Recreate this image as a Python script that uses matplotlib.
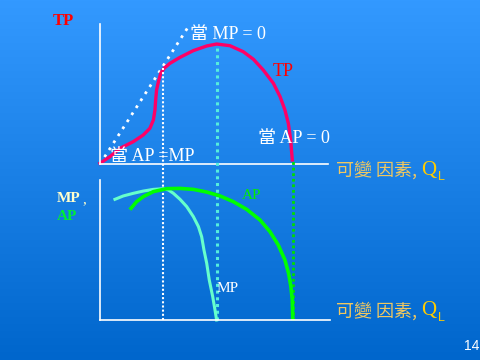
import numpy as np
import matplotlib
matplotlib.use("Agg")
from matplotlib import pyplot as plt

# labour input Q (0..10 along the axis) and total product TP (0..10 up the axis)
q_tp = [0, 0.43, 0.87, 1.45, 1.88, 2.17, 2.32, 2.39, 2.42, 2.46, 2.54, 2.64, 2.78, 3.04, 3.48,
        4.06, 4.64, 5.07, 5.65, 6.23, 6.67, 7.10, 7.54, 7.83, 8.04, 8.19, 8.29, 8.36]
tp = [0.05, 0.52, 1.12, 1.60, 2.07, 2.55, 3.14, 3.86, 4.57, 5.29, 5.88, 6.48, 6.83, 7.19, 7.62,
      8.10, 8.43, 8.57, 8.45, 8.02, 7.48, 6.71, 5.76, 4.81, 3.86, 2.90, 1.71, 0.29]

# ray from origin tangent to TP
ray_q = [0, 3.8]
ray_tp = [0, 9.7]

# marginal and average product
q_mp = [0.65, 1.01, 1.45, 1.88, 2.32, 2.75, 2.97, 3.19, 3.48, 3.77, 4.06, 4.28, 4.42, 4.52,
        4.64, 4.75, 4.90, 5.00, 5.07]
mp = [8.62, 8.86, 9.05, 9.21, 9.33, 9.38, 9.29, 9.05, 8.62, 8.10, 7.38, 6.67, 5.95, 5.0,
      4.05, 2.86, 1.67, 0.71, 0]
q_ap = [1.35, 1.59, 1.88, 2.32, 2.90, 3.48, 4.06, 4.64, 5.22, 5.80, 6.38, 6.96, 7.39, 7.75,
        8.04, 8.20, 8.30, 8.36, 8.38]
ap = [7.98, 8.45, 8.81, 9.17, 9.38, 9.40, 9.33, 9.14, 8.86, 8.45, 7.90, 7.14, 6.31, 5.36,
      4.29, 3.33, 2.38, 1.43, 0.12]

# key points: AP = MP, MP = 0, AP = 0 (q, top of the guide line in lower-panel units)
q_apmp, top_apmp = 2.74, 18.0
q_mp0, top_mp0 = 5.07, 19.6
q_ap0, top_ap0 = 8.37, 11.4

W, H = 480, 360
fig = plt.figure(figsize=(4.8, 3.6), dpi=100)

# background gradient
bg = fig.add_axes([0, 0, 1, 1])
grad = np.linspace(0, 1, 256)[:, None]
top_c = np.array([51, 153, 255]) / 255
bot_c = np.array([0, 102, 204]) / 255
img = top_c * (1 - grad[..., None]) + bot_c * grad[..., None]
img = np.repeat(img, 2, axis=1)
bg.imshow(img, aspect="auto", extent=[0, 1, 0, 1])
bg.axis("off")

def fx(x):
    return x / W

def fy(y):
    return 1 - y / H

ax1 = fig.add_axes([fx(100), fy(164), 230 / W, 140 / H])
ax2 = fig.add_axes([fx(100), fy(320), 230 / W, 140 / H])
for ax in (ax1, ax2):
    ax.set_xlim(0, 10)
    ax.set_ylim(0, 10)
    ax.patch.set_alpha(0)
    ax.set_xticks([])
    ax.set_yticks([])
    for s in ("top", "right"):
        ax.spines[s].set_visible(False)
    for s in ("left", "bottom"):
        ax.spines[s].set_color("white")
        ax.spines[s].set_linewidth(1.2)
ax1.spines["bottom"].set_bounds(0, 9.9)

# upper panel
ax1.plot(ray_q, ray_tp, color="white", lw=2, ls=(0, (1, 2)), clip_on=False)
ax1.plot(q_tp, tp, color="#FF0066", lw=2.4, solid_joinstyle="round", clip_on=False)

# guide lines through both panels
ax2.plot([q_apmp, q_apmp], [0, top_apmp], color="white", lw=1.5, ls=(0, (1, 1)), clip_on=False, zorder=1)
ax2.plot([q_mp0, q_mp0], [0, top_mp0], color="#55EEDD", lw=2.2, ls=(0, (1, 1.2)), clip_on=False, zorder=1)
ax2.plot([q_ap0, q_ap0], [0, top_ap0], color="#00DD00", lw=2.0, ls=(0, (1, 1)), clip_on=False, zorder=1)

# lower panel
ax2.plot(q_mp, mp, color="#66FFCC", lw=2.2, solid_joinstyle="round", clip_on=False)
ax2.plot(q_ap, ap, color="#00FF00", lw=2.6, solid_joinstyle="round", clip_on=False)

serif_cjk = ["Liberation Serif", "Noto Sans CJK TC"]
cjk = ["Noto Sans CJK TC", "Liberation Serif"]

fig.text(fx(53), fy(21), "TP", color="red", fontsize=12, fontweight="bold", family="Liberation Serif", va="center")
fig.text(fx(190), fy(35), "當 MP = 0", color="white", fontsize=13, family=serif_cjk, va="center")
fig.text(fx(273), fy(71), "TP", color="red", fontsize=13, family="Liberation Serif", va="center")
fig.text(fx(258), fy(139), "當 AP = 0", color="white", fontsize=13, family=serif_cjk, va="center")
fig.text(fx(110), fy(157), "當 AP =MP", color="white", fontsize=13, family=serif_cjk, va="center")

for y in (170, 311):
    fig.text(fx(336), fy(y), "可變 因素,", color="#F0C860", fontsize=13, family=cjk, va="center")
    fig.text(fx(421), fy(y), "Q", color="#FFCC00", fontsize=15, family="Liberation Serif", va="center")
    fig.text(fx(438), fy(y + 7), "L", color="#FFCC00", fontsize=9, family="Liberation Sans", va="center")

fig.text(fx(57), fy(198), "MP", color="#FFFFCC", fontsize=11, fontweight="bold", family="Liberation Serif", va="center")
fig.text(fx(82), fy(200), ",", color="#FFFFCC", fontsize=11, family="Liberation Serif", va="center")
fig.text(fx(57), fy(216), "AP", color="#00EE33", fontsize=11, fontweight="bold", family="Liberation Serif", va="center")
fig.text(fx(242), fy(196), "AP", color="#00EE00", fontsize=11, family="Liberation Serif", va="center")
fig.text(fx(217), fy(289), "MP", color="white", fontsize=11, family="Liberation Serif", va="center")
fig.text(fx(464), fy(346), "14", color="white", fontsize=10, family="Liberation Sans", va="center")

fig.savefig("out.png", dpi=100)
